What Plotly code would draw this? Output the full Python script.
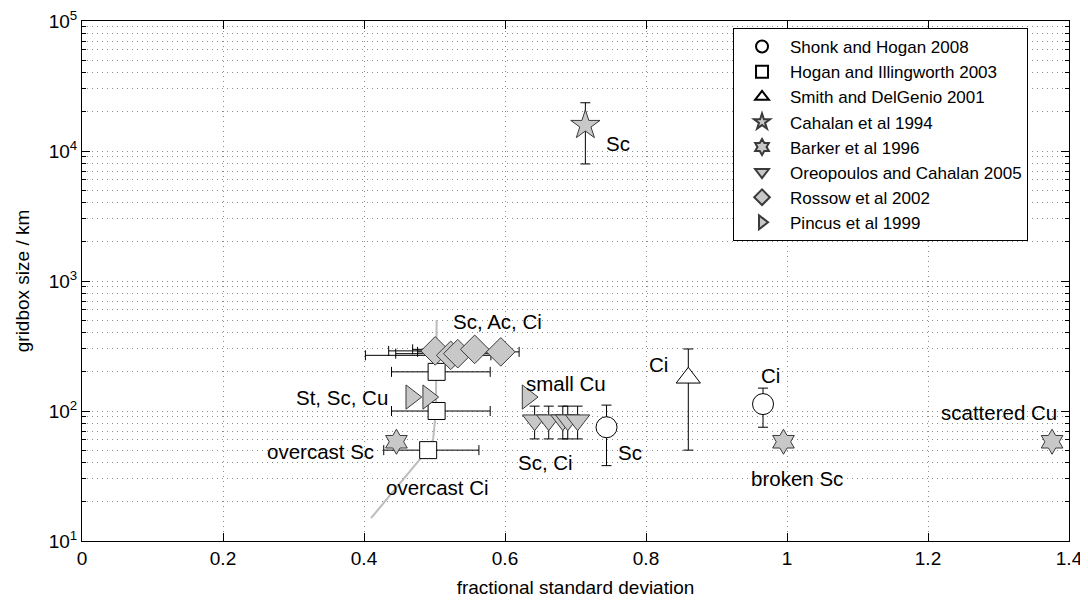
import math
import plotly.graph_objects as go

# ---------------- data ----------------
shonk_x = [0.744, 0.966]
shonk_y = [75, 113]
shonk_hi = [111, 150]
shonk_lo = [38, 75]

hogan_x = [0.503, 0.503, 0.491]
hogan_y = [200, 100, 50]
hogan_xlo = [0.439, 0.439, 0.428]
hogan_xhi = [0.579, 0.579, 0.563]

smith_x = [0.86]
smith_y = [180]
smith_hi = [300]
smith_lo = [50]

cahalan_x = [0.714]
cahalan_y = [15800]
cahalan_hi = [23500]
cahalan_lo = [7950]

barker_x = [0.446, 0.995, 1.376]
barker_y = [58, 58, 58]

oreo_x = [0.642, 0.662, 0.682, 0.689, 0.703]
oreo_y = [85, 85, 85, 85, 85]
oreo_hi = [109, 109, 109, 109, 109]
oreo_lo = [61, 61, 61, 61, 61]

rossow_x = [0.501, 0.523, 0.533, 0.557, 0.594]
rossow_y = [290, 268, 276, 298, 285]
rossow_xlo = [0.435, 0.402, 0.445, 0.469, 0.476]
rossow_xhi = [0.565, 0.580, 0.585, 0.600, 0.620]

pincus_x = [0.467, 0.491, 0.632]
pincus_y = [128, 128, 128]

curve_x = [0.41, 0.483, 0.498, 0.502, 0.503]
curve_y = [15, 45, 60, 100, 500]

label_text = ["Sc", "Sc, Ac, Ci", "St, Sc, Cu", "small Cu", "overcast Sc", "overcast Ci",
              "Sc, Ci", "Sc", "Ci", "Ci", "broken Sc", "scattered Cu"]
label_x = [0.76, 0.59, 0.437, 0.687, 0.417, 0.504, 0.658, 0.778, 0.818, 0.977, 1.014, 1.30]
label_y = [11500, 484, 128, 164, 49, 26, 40, 47.6, 226, 186, 30.5, 97]
label_anchor = ["center", "center", "right", "center", "right", "center",
                "center", "center", "center", "center", "center", "center"]

x_ticks = [0, 0.2, 0.4, 0.6, 0.8, 1.0, 1.2, 1.4]
x_ticktext = ["0", "0.2", "0.4", "0.6", "0.8", "1", "1.2", "1.4"]
y_ticks = [10, 100, 1000, 10000, 100000]
y_ticktext = ["10<sup>1</sup>", "10<sup>2</sup>", "10<sup>3</sup>", "10<sup>4</sup>", "10<sup>5</sup>"]
y_minor = [m * 10 ** e for e in range(1, 5) for m in range(2, 10)]

# ---------------- figure ----------------
FONT = "Liberation Sans, Arial, sans-serif"
GRAY = "#c8c8c8"
EDGE = "#3a3a3a"
GRID = "#8c8c8c"
GDASH = "1px,4px"

fig = go.Figure()

fig.add_trace(go.Scatter(x=curve_x, y=curve_y, mode="lines",
                         line=dict(color="#bdbdbd", width=2), showlegend=False,
                         hoverinfo="skip"))


def err_y(y, hi, lo):
    return dict(type="data", symmetric=False,
                array=[h - v for h, v in zip(hi, y)],
                arrayminus=[v - l for v, l in zip(y, lo)],
                color="black", thickness=1, width=5)


def err_x(x, hi, lo):
    return dict(type="data", symmetric=False,
                array=[h - v for h, v in zip(hi, x)],
                arrayminus=[v - l for v, l in zip(x, lo)],
                color="black", thickness=1, width=5)


fig.add_trace(go.Scatter(
    x=shonk_x, y=shonk_y, mode="markers", name="Shonk and Hogan 2008",
    marker=dict(symbol="circle", size=21, color="white", line=dict(color="black", width=1)),
    error_y=err_y(shonk_y, shonk_hi, shonk_lo)))

fig.add_trace(go.Scatter(
    x=hogan_x, y=hogan_y, mode="markers", name="Hogan and Illingworth 2003",
    marker=dict(symbol="square", size=17, color="white", line=dict(color="black", width=1)),
    error_x=err_x(hogan_x, hogan_xhi, hogan_xlo)))

fig.add_trace(go.Scatter(
    x=smith_x, y=smith_y, mode="markers", name="Smith and DelGenio 2001",
    marker=dict(symbol="triangle-up", size=21, color="white", line=dict(color="black", width=1)),
    error_y=err_y(smith_y, smith_hi, smith_lo)))

fig.add_trace(go.Scatter(
    x=cahalan_x, y=cahalan_y, mode="markers", name="Cahalan et al 1994",
    marker=dict(symbol="star", size=22, color=GRAY, line=dict(color=EDGE, width=1)),
    error_y=err_y(cahalan_y, cahalan_hi, cahalan_lo)))

fig.add_trace(go.Scatter(
    x=barker_x, y=barker_y, mode="markers", name="Barker et al 1996",
    marker=dict(symbol="hexagram", size=19, color=GRAY, line=dict(color=EDGE, width=1))))

fig.add_trace(go.Scatter(
    x=oreo_x, y=oreo_y, mode="markers", name="Oreopoulos and Cahalan 2005",
    marker=dict(symbol="triangle-down", size=21, color=GRAY, line=dict(color=EDGE, width=1)),
    error_y=err_y(oreo_y, oreo_hi, oreo_lo)))

fig.add_trace(go.Scatter(
    x=rossow_x, y=rossow_y, mode="markers", name="Rossow et al 2002",
    marker=dict(symbol="diamond", size=22, color=GRAY, line=dict(color=EDGE, width=1)),
    error_x=err_x(rossow_x, rossow_xhi, rossow_xlo)))

fig.add_trace(go.Scatter(
    x=pincus_x, y=pincus_y, mode="markers", name="Pincus et al 1999",
    marker=dict(symbol="triangle-right", size=21, color=GRAY, line=dict(color=EDGE, width=1))))

for text, lx, ly, anchor in zip(label_text, label_x, label_y, label_anchor):
    fig.add_annotation(x=lx, y=math.log10(ly), xref="x", yref="y", text=text,
                       showarrow=False, xanchor=anchor, yanchor="middle",
                       font=dict(family=FONT, size=20.5, color="black"))

# The page body adds an 8px offset, so margins are shifted to compensate.
fig.update_layout(
    width=1088, height=601,
    margin=dict(l=74, r=27, t=13, b=68, autoexpand=False),
    paper_bgcolor="white", plot_bgcolor="white",
    font=dict(family=FONT, size=19, color="black"),
    showlegend=True,
    legend=dict(x=0.6596, y=0.9865, xanchor="left", yanchor="top",
                bgcolor="white", bordercolor="black", borderwidth=1,
                font=dict(family=FONT, size=17, color="black"),
                tracegroupgap=0, itemsizing="constant", itemwidth=46,
                entrywidth=270, entrywidthmode="pixels"),
    xaxis=dict(range=[0, 1.4], tickmode="array", tickvals=x_ticks, ticktext=x_ticktext,
               ticks="inside", ticklen=8, tickcolor="black", showline=True, linecolor="black",
               linewidth=1, mirror="ticks", showgrid=True, gridcolor=GRID,
               griddash=GDASH, gridwidth=1, zeroline=False, automargin=False,
               ticklabeloverflow="allow",
               tickfont=dict(family=FONT, size=19),
               title=dict(text="fractional standard deviation", standoff=12,
                          font=dict(family=FONT, size=19))),
    yaxis=dict(type="log", range=[1, 5], tickmode="array", tickvals=y_ticks, ticktext=y_ticktext,
               ticks="inside", ticklen=8, tickcolor="black", showline=True, linecolor="black",
               linewidth=1, mirror="ticks", showgrid=True, gridcolor=GRID,
               griddash=GDASH, gridwidth=1, zeroline=False, automargin=False,
               ticklabeloverflow="allow",
               tickfont=dict(family=FONT, size=19),
               minor=dict(tickmode="array", tickvals=y_minor, ticks="inside", ticklen=4,
                          tickcolor="black", showgrid=True, gridcolor=GRID,
                          griddash=GDASH, gridwidth=1),
               title=dict(text="gridbox size / km", standoff=14,
                          font=dict(family=FONT, size=19))),
)

fig.write_html("out.html")
